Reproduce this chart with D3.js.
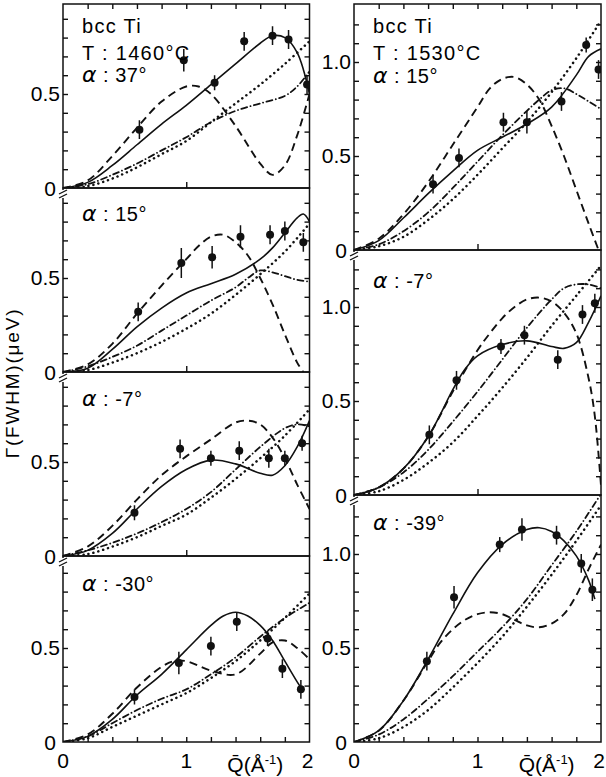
<!DOCTYPE html>
<html><head><meta charset="utf-8">
<script src="https://cdn.jsdelivr.net/npm/d3@7"></script>
<style>body{margin:0;background:#fff}svg{display:block}</style>
</head><body>
<script>
// ---------- DATA (Q in Å^-1, Γ in μeV) ----------
const xTickLabels = ["0", "1", "2"];
const yTickLabelsLeft = ["0", "0.5"];
const yTickLabelsRight = ["0", "0.5", "1.0"];
const headerLeft = ["bcc Ti", "T : 1460°C"];
const headerRight = ["bcc Ti", "T : 1530°C"];
const alphaLabels = ["37°", "15°", "-7°", "-30°", "15°", "-7°", "-39°"];

// Left column, panel 1 (α = 37°)
const L1_ptsQ = [0.62, 0.98, 1.23, 1.47, 1.70, 1.83, 1.98];
const L1_ptsG = [0.31, 0.68, 0.56, 0.78, 0.81, 0.79, 0.55];
const L1_err  = [0.05, 0.06, 0.04, 0.05, 0.05, 0.05, 0.05];
const L1_solid = [[0,0],[0.2,0.03],[0.4,0.12],[0.6,0.23],[0.8,0.34],[1.0,0.44],[1.2,0.55],[1.4,0.66],[1.6,0.77],[1.7,0.81],[1.8,0.80],[1.9,0.72],[2.0,0.5]];
const L1_dash  = [[0,0],[0.2,0.04],[0.4,0.17],[0.6,0.32],[0.8,0.46],[1.0,0.54],[1.1,0.54],[1.2,0.50],[1.4,0.33],[1.6,0.13],[1.7,0.07],[1.8,0.12],[1.9,0.28],[2.0,0.5]];
const L1_dashdot = [[0,0],[0.2,0.02],[0.4,0.07],[0.6,0.13],[0.8,0.20],[1.0,0.27],[1.2,0.35],[1.4,0.41],[1.6,0.45],[1.8,0.49],[1.9,0.54],[2.0,0.62]];
const L1_dot   = [[0,0],[0.2,0.01],[0.4,0.05],[0.6,0.11],[0.8,0.18],[1.0,0.25],[1.2,0.35],[1.4,0.45],[1.6,0.55],[1.8,0.66],[2.0,0.78]];

// Left column, panel 2 (α = 15°)
const L2_ptsQ = [0.61, 0.96, 1.21, 1.44, 1.68, 1.80, 1.95];
const L2_ptsG = [0.32, 0.58, 0.61, 0.72, 0.73, 0.75, 0.69];
const L2_err  = [0.05, 0.08, 0.06, 0.06, 0.05, 0.05, 0.05];
const L2_solid = [[0,0],[0.2,0.02],[0.4,0.12],[0.6,0.24],[0.8,0.34],[1.0,0.42],[1.2,0.47],[1.4,0.52],[1.6,0.60],[1.7,0.66],[1.8,0.74],[1.9,0.82],[1.95,0.84],[2.0,0.80]];
const L2_dash  = [[0,0],[0.2,0.04],[0.4,0.15],[0.6,0.31],[0.8,0.46],[1.0,0.60],[1.1,0.67],[1.2,0.72],[1.3,0.73],[1.4,0.69],[1.5,0.62],[1.6,0.50],[1.7,0.36],[1.8,0.20],[1.9,0.05],[1.95,0.0]];
const L2_dashdot = [[0,0],[0.2,0.03],[0.4,0.08],[0.6,0.14],[0.8,0.22],[1.0,0.30],[1.2,0.38],[1.4,0.45],[1.5,0.50],[1.6,0.54],[1.7,0.53],[1.8,0.51],[1.9,0.49],[2.0,0.48]];
const L2_dot   = [[0,0],[0.2,0.01],[0.4,0.05],[0.6,0.10],[0.8,0.16],[1.0,0.23],[1.2,0.31],[1.4,0.41],[1.6,0.52],[1.8,0.64],[2.0,0.79]];

// Left column, panel 3 (α = -7°)
const L3_ptsQ = [0.58, 0.95, 1.20, 1.43, 1.67, 1.80, 1.94];
const L3_ptsG = [0.23, 0.57, 0.52, 0.56, 0.52, 0.52, 0.60];
const L3_err  = [0.04, 0.05, 0.04, 0.05, 0.05, 0.04, 0.04];
const L3_solid = [[0,0],[0.2,0.03],[0.4,0.12],[0.6,0.25],[0.8,0.37],[1.0,0.46],[1.2,0.51],[1.4,0.49],[1.6,0.44],[1.7,0.43],[1.8,0.48],[1.9,0.58],[2.0,0.72]];
const L3_dash  = [[0,0],[0.2,0.05],[0.4,0.16],[0.6,0.30],[0.8,0.43],[1.0,0.53],[1.2,0.62],[1.4,0.71],[1.5,0.72],[1.6,0.70],[1.7,0.63],[1.8,0.52],[1.9,0.38],[2.0,0.25]];
const L3_dashdot = [[0,0],[0.2,0.03],[0.4,0.07],[0.6,0.12],[0.8,0.18],[1.0,0.25],[1.2,0.34],[1.4,0.46],[1.6,0.58],[1.8,0.68],[1.9,0.70],[2.0,0.69]];
const L3_dot   = [[0,0],[0.2,0.01],[0.4,0.05],[0.6,0.10],[0.8,0.16],[1.0,0.22],[1.2,0.31],[1.4,0.41],[1.6,0.52],[1.8,0.64],[2.0,0.78]];

// Left column, panel 4 (α = -30°)
const L4_ptsQ = [0.58, 0.94, 1.20, 1.41, 1.66, 1.78, 1.93];
const L4_ptsG = [0.24, 0.42, 0.51, 0.64, 0.55, 0.39, 0.28];
const L4_err  = [0.04, 0.06, 0.05, 0.05, 0.04, 0.05, 0.05];
const L4_solid = [[0,0],[0.2,0.03],[0.4,0.12],[0.6,0.25],[0.8,0.36],[1.0,0.49],[1.2,0.62],[1.3,0.67],[1.4,0.69],[1.5,0.67],[1.6,0.62],[1.7,0.54],[1.8,0.43],[1.9,0.32],[1.95,0.27]];
const L4_dash  = [[0,0],[0.2,0.04],[0.4,0.15],[0.6,0.29],[0.8,0.40],[0.9,0.43],[1.0,0.43],[1.2,0.38],[1.4,0.36],[1.6,0.47],[1.7,0.53],[1.8,0.54],[1.9,0.50],[2.0,0.44]];
const L4_dashdot = [[0,0],[0.2,0.03],[0.4,0.10],[0.6,0.17],[0.8,0.23],[1.0,0.28],[1.2,0.36],[1.4,0.45],[1.6,0.56],[1.8,0.66],[2.0,0.74]];
const L4_dot   = [[0,0],[0.2,0.02],[0.4,0.08],[0.6,0.14],[0.8,0.20],[1.0,0.26],[1.2,0.34],[1.4,0.43],[1.6,0.54],[1.8,0.66],[2.0,0.79]];

// Right column, panel 1 (α = 15°)
const R1_ptsQ = [0.64, 0.85, 1.21, 1.40, 1.68, 1.88, 1.98];
const R1_ptsG = [0.35, 0.49, 0.68, 0.68, 0.79, 1.09, 0.96];
const R1_err  = [0.05, 0.05, 0.05, 0.06, 0.05, 0.04, 0.05];
const R1_solid = [[0,0],[0.2,0.05],[0.4,0.17],[0.6,0.30],[0.8,0.42],[1.0,0.53],[1.2,0.60],[1.4,0.67],[1.6,0.76],[1.8,0.93],[1.9,1.03],[2.0,1.07]];
const R1_dash  = [[0,0],[0.2,0.06],[0.4,0.19],[0.6,0.36],[0.8,0.56],[1.0,0.76],[1.1,0.86],[1.2,0.91],[1.3,0.92],[1.4,0.88],[1.5,0.80],[1.6,0.66],[1.7,0.50],[1.8,0.32],[1.9,0.14],[1.98,0.0]];
const R1_dashdot = [[0,0],[0.2,0.03],[0.4,0.10],[0.6,0.20],[0.8,0.33],[1.0,0.47],[1.2,0.61],[1.4,0.74],[1.5,0.80],[1.6,0.85],[1.7,0.86],[1.8,0.83],[1.9,0.79],[2.0,0.75]];
const R1_dot   = [[0,0],[0.2,0.02],[0.4,0.07],[0.6,0.16],[0.8,0.27],[1.0,0.40],[1.2,0.54],[1.4,0.68],[1.6,0.84],[1.8,1.02],[2.0,1.22]];

// Right column, panel 2 (α = -7°)
const R2_ptsQ = [0.61, 0.83, 1.19, 1.38, 1.65, 1.85, 1.95];
const R2_ptsG = [0.32, 0.61, 0.79, 0.85, 0.72, 0.96, 1.02];
const R2_err  = [0.05, 0.05, 0.04, 0.05, 0.05, 0.05, 0.05];
const R2_solid = [[0,0],[0.2,0.04],[0.4,0.14],[0.6,0.31],[0.7,0.43],[0.8,0.56],[0.9,0.67],[1.0,0.74],[1.2,0.80],[1.4,0.82],[1.6,0.79],[1.7,0.78],[1.8,0.81],[1.9,0.92],[2.0,1.06]];
const R2_dash  = [[0,0],[0.2,0.04],[0.4,0.14],[0.6,0.31],[0.8,0.55],[1.0,0.77],[1.1,0.86],[1.2,0.94],[1.3,1.00],[1.4,1.04],[1.5,1.05],[1.6,1.03],[1.7,0.97],[1.8,0.86],[1.9,0.62],[1.95,0.42],[2.0,0.05]];
const R2_dashdot = [[0,0],[0.2,0.04],[0.4,0.12],[0.6,0.24],[0.8,0.39],[1.0,0.55],[1.2,0.72],[1.4,0.89],[1.6,1.04],[1.7,1.10],[1.8,1.12],[1.9,1.12],[2.0,1.10]];
const R2_dot   = [[0,0],[0.2,0.02],[0.4,0.08],[0.6,0.17],[0.8,0.28],[1.0,0.42],[1.2,0.57],[1.4,0.73],[1.6,0.90],[1.8,1.06],[2.0,1.22]];

// Right column, panel 3 (α = -39°)
const R3_ptsQ = [0.59, 0.81, 1.18, 1.36, 1.64, 1.84, 1.93];
const R3_ptsG = [0.43, 0.77, 1.05, 1.13, 1.10, 0.95, 0.81];
const R3_err  = [0.05, 0.06, 0.04, 0.06, 0.05, 0.05, 0.06];
const R3_solid = [[0,0],[0.2,0.06],[0.4,0.22],[0.6,0.44],[0.8,0.68],[1.0,0.90],[1.2,1.05],[1.4,1.13],[1.5,1.14],[1.6,1.12],[1.7,1.07],[1.8,0.99],[1.9,0.86],[1.95,0.76]];
const R3_dash  = [[0,0],[0.2,0.06],[0.4,0.22],[0.6,0.43],[0.7,0.53],[0.8,0.60],[0.9,0.65],[1.0,0.68],[1.1,0.69],[1.2,0.68],[1.3,0.65],[1.4,0.62],[1.5,0.61],[1.6,0.63],[1.7,0.68],[1.8,0.78],[1.9,0.92],[2.0,1.05]];
const R3_dashdot = [[0,0],[0.2,0.04],[0.4,0.12],[0.6,0.23],[0.8,0.35],[1.0,0.48],[1.2,0.61],[1.4,0.76],[1.6,0.94],[1.8,1.12],[2.0,1.32]];
const R3_dot   = [[0,0],[0.2,0.02],[0.4,0.08],[0.6,0.17],[0.8,0.29],[1.0,0.42],[1.2,0.56],[1.4,0.72],[1.6,0.89],[1.8,1.07],[2.0,1.26]];

// ---------- DRAWING ----------
const W = 606, H = 777;
const svg = d3.select("body").append("svg").attr("width", W).attr("height", H);
const FONT = "'Liberation Sans', Arial, Helvetica, sans-serif";
const UNIT = 188; // px per μeV

const xL = d3.scaleLinear().domain([0, 2]).range([63, 309.5]);
const xR = d3.scaleLinear().domain([0, 2]).range([354, 601]);

const panels = [
  {x: xL, top: 4,   bottom: 188, data: [L1_solid, L1_dash, L1_dashdot, L1_dot], q: L1_ptsQ, g: L1_ptsG, e: L1_err, lab: 0, first: true,  last: false, labelY: 82, labels: yTickLabelsLeft},
  {x: xL, top: 188, bottom: 372, data: [L2_solid, L2_dash, L2_dashdot, L2_dot], q: L2_ptsQ, g: L2_ptsG, e: L2_err, lab: 1, first: false, last: false, labelY: 221, labels: yTickLabelsLeft},
  {x: xL, top: 372, bottom: 556, data: [L3_solid, L3_dash, L3_dashdot, L3_dot], q: L3_ptsQ, g: L3_ptsG, e: L3_err, lab: 2, first: false, last: false, labelY: 406, labels: yTickLabelsLeft},
  {x: xL, top: 556, bottom: 742, data: [L4_solid, L4_dash, L4_dashdot, L4_dot], q: L4_ptsQ, g: L4_ptsG, e: L4_err, lab: 3, first: false, last: true,  labelY: 591, labels: yTickLabelsLeft},
  {x: xR, top: 4,   bottom: 250, data: [R1_solid, R1_dash, R1_dashdot, R1_dot], q: R1_ptsQ, g: R1_ptsG, e: R1_err, lab: 4, first: true,  last: false, labelY: 83, labels: yTickLabelsRight},
  {x: xR, top: 250, bottom: 495, data: [R2_solid, R2_dash, R2_dashdot, R2_dot], q: R2_ptsQ, g: R2_ptsG, e: R2_err, lab: 5, first: false, last: false, labelY: 288, labels: yTickLabelsRight},
  {x: xR, top: 495, bottom: 742, data: [R3_solid, R3_dash, R3_dashdot, R3_dot], q: R3_ptsQ, g: R3_ptsG, e: R3_err, lab: 6, first: false, last: true,  labelY: 530, labels: yTickLabelsRight}
];

const styles = [
  {w: 1.6, dash: null, cap: "butt"},
  {w: 1.9, dash: "8 5", cap: "butt"},
  {w: 1.8, dash: "6 3.5 0.1 3.5", cap: "round"},
  {w: 2.5, dash: "0.1 5", cap: "round"}
];

panels.forEach((p, i) => {
  const x = p.x;
  const ymax = (p.bottom - p.top) / UNIT;
  const y = d3.scaleLinear().domain([0, ymax]).range([p.bottom, p.top]);
  const x0 = x.range()[0], x1 = x.range()[1];
  const g = svg.append("g");

  const clipId = "clip" + i;
  svg.append("clipPath").attr("id", clipId).append("rect")
    .attr("x", x0).attr("y", p.top).attr("width", x1 - x0).attr("height", p.bottom - p.top);

  // frame
  g.append("rect").attr("x", x0).attr("y", p.top).attr("width", x1 - x0).attr("height", p.bottom - p.top)
    .attr("fill", "none").attr("stroke", "#111").attr("stroke-width", 1.5);

  // y ticks every 0.1 on left and right, inward
  const yt = d3.range(0.1, ymax - 0.02, 0.1);
  g.append("g").attr("transform", `translate(${x0},0)`)
    .call(d3.axisRight(y).tickValues(yt).tickSize(5).tickFormat(""))
    .call(a => a.select(".domain").remove())
    .selectAll("line").attr("stroke", "#111").attr("stroke-width", 1.4);
  g.append("g").attr("transform", `translate(${x1},0)`)
    .call(d3.axisLeft(y).tickValues(yt).tickSize(5).tickFormat(""))
    .call(a => a.select(".domain").remove())
    .selectAll("line").attr("stroke", "#111").attr("stroke-width", 1.4);

  // x ticks
  const xt = d3.range(0.2, 1.95, 0.2);
  if (p.first) {
    g.append("g").attr("transform", `translate(0,${p.top})`)
      .call(d3.axisBottom(x).tickValues(xt).tickSize(5).tickFormat(""))
      .call(a => a.select(".domain").remove())
      .selectAll("line").attr("stroke", "#111").attr("stroke-width", 1.4);
  }
  if (p.last) {
    g.append("g").attr("transform", `translate(0,${p.bottom})`)
      .call(d3.axisTop(x).tickValues(xt).tickSize(5).tickFormat(""))
      .call(a => a.select(".domain").remove())
      .selectAll("line").attr("stroke", "#111").attr("stroke-width", 1.4);
  } else {
    g.append("g").attr("transform", `translate(0,${p.bottom})`)
      .call(d3.axisTop(x).tickValues([1]).tickSize(6).tickFormat(""))
      .call(a => a.select(".domain").remove())
      .selectAll("line").attr("stroke", "#111").attr("stroke-width", 1.4);
  }

  // y tick labels
  p.labels.forEach(t => {
    const v = +t;
    g.append("text")
      .attr("x", v === 0 ? x0 - 7 : x0 - 3)
      .attr("y", y(v) + (v === 0 ? 8 : 7))
      .attr("text-anchor", "end")
      .attr("font-family", FONT).attr("font-size", 21)
      .text(t);
  });

  // break mark at top-left junction (not for first panel)
  if (!p.first) {
    const j = p.top;
    g.append("rect").attr("x", x0 - 2).attr("y", j + 2).attr("width", 4).attr("height", 8).attr("fill", "#fff");
    g.append("line").attr("x1", x0 - 4).attr("y1", j + 6).attr("x2", x0 + 4).attr("y2", j + 2)
      .attr("stroke", "#111").attr("stroke-width", 1.3);
    g.append("line").attr("x1", x0 - 4).attr("y1", j + 10).attr("x2", x0 + 4).attr("y2", j + 6)
      .attr("stroke", "#111").attr("stroke-width", 1.3);
  }

  // curves
  const line = d3.line().x(d => x(d[0])).y(d => y(d[1])).curve(d3.curveCatmullRom.alpha(0.5));
  const cg = g.append("g").attr("clip-path", `url(#${clipId})`);
  p.data.forEach((d, k) => {
    const s = styles[k];
    cg.append("path").datum(d).attr("d", line)
      .attr("fill", "none").attr("stroke", "#111")
      .attr("stroke-width", s.w).attr("stroke-linecap", s.cap)
      .attr("stroke-dasharray", s.dash);
  });

  // data points with error bars
  const pts = p.q.map((q, k) => ({q, g: p.g[k], e: p.e[k]}));
  cg.selectAll(".eb").data(pts).enter().append("line")
    .attr("x1", d => x(d.q)).attr("x2", d => x(d.q))
    .attr("y1", d => y(d.g - d.e)).attr("y2", d => y(d.g + d.e))
    .attr("stroke", "#111").attr("stroke-width", 1.5);
  cg.selectAll(".pt").data(pts).enter().append("circle")
    .attr("cx", d => x(d.q)).attr("cy", d => y(d.g)).attr("r", 4)
    .attr("fill", "#111");

  // alpha label
  const at = g.append("text").attr("x", x0 + 19).attr("y", p.labelY)
    .attr("font-family", FONT).attr("font-size", 20).attr("letter-spacing", 0.5);
  at.append("tspan").attr("font-style", "italic").attr("font-family", "'DejaVu Sans', sans-serif").attr("font-size", 22).text("α");
  at.append("tspan").text(" : " + alphaLabels[p.lab]);
});

// headers
[[xL, headerLeft], [xR, headerRight]].forEach(([x, h]) => {
  h.forEach((t, k) => {
    svg.append("text").attr("x", x.range()[0] + 19).attr("y", 33 + k * 27)
      .attr("font-family", FONT).attr("font-size", 20).attr("letter-spacing", 1.3)
      .text(t);
  });
});

// x tick labels
[xL, xR].forEach(x => {
  xTickLabels.forEach(t => {
    svg.append("text").attr("x", x(+t) - (t === "2" ? 2 : 0)).attr("y", 768)
      .attr("text-anchor", "middle").attr("font-family", FONT).attr("font-size", 21)
      .text(t);
  });
  const xl = svg.append("text").attr("x", x(1.56)).attr("y", 772)
    .attr("text-anchor", "middle").attr("font-family", FONT).attr("font-size", 21);
  xl.append("tspan").text("Q\u0304(");
  xl.append("tspan").text("Å");
  xl.append("tspan").attr("font-size", 13).attr("dy", -8).text("-1");
  xl.append("tspan").attr("dy", 8).text(")");
});

// y axis title
svg.append("text")
  .attr("transform", "translate(19,383) rotate(-90)")
  .attr("text-anchor", "middle").attr("font-family", FONT).attr("font-size", 19)
  .attr("letter-spacing", 1.8)
  .text("Γ(FWHM)(μeV)");
</script>
</body></html>
